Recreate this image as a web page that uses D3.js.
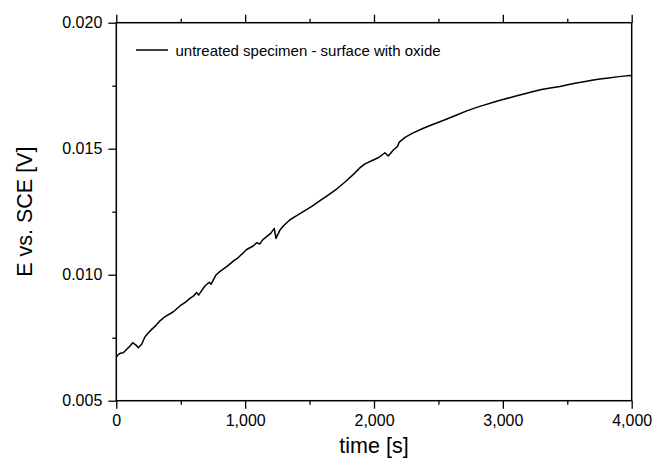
<!DOCTYPE html>
<html><head><meta charset="utf-8">
<script src="https://cdn.jsdelivr.net/npm/d3@7"></script>
<style>
html,body{margin:0;padding:0;background:#fff;}
svg{display:block;font-family:"Liberation Sans",Arial,sans-serif;}
</style></head>
<body>
<svg id="chart" width="654" height="465"></svg>
<script>
const times = [0, 15, 30, 54, 81, 105, 127, 153, 171, 185, 197, 223, 250, 275, 310, 339, 380, 443, 494, 540, 572, 600, 624, 639, 660, 688, 710, 722, 735, 774, 805, 857, 908, 947, 980, 1012, 1040, 1063, 1089, 1115, 1136, 1167, 1200, 1226, 1239, 1270, 1300, 1348, 1400, 1451, 1520, 1581, 1650, 1710, 1780, 1840, 1890, 1930, 1995, 2040, 2085, 2111, 2150, 2181, 2196, 2241, 2300, 2383, 2450, 2512, 2580, 2642, 2720, 2797, 2860, 2926, 3000, 3080, 3185, 3236, 3300, 3380, 3443, 3496, 3560, 3640, 3702, 3754, 3820, 3900, 3960, 4000];
const potential = [0.00672, 0.00683, 0.00688, 0.00690, 0.00704, 0.00716, 0.00730, 0.00721, 0.00710, 0.00718, 0.00724, 0.00754, 0.00770, 0.00783, 0.00800, 0.00817, 0.00834, 0.00853, 0.00876, 0.00892, 0.00906, 0.00916, 0.00929, 0.00919, 0.00935, 0.00955, 0.00965, 0.00970, 0.00962, 0.00999, 0.01013, 0.01032, 0.01054, 0.01068, 0.01084, 0.01100, 0.01108, 0.01114, 0.01127, 0.01122, 0.01138, 0.01151, 0.01165, 0.01184, 0.01144, 0.01177, 0.01195, 0.01218, 0.01234, 0.01250, 0.01272, 0.01294, 0.01318, 0.01340, 0.01370, 0.01398, 0.01424, 0.01440, 0.01455, 0.01466, 0.01484, 0.01471, 0.01495, 0.01508, 0.01526, 0.01545, 0.01562, 0.01581, 0.01595, 0.01607, 0.01621, 0.01634, 0.01650, 0.01664, 0.01674, 0.01684, 0.01695, 0.01706, 0.01720, 0.01727, 0.01735, 0.01742, 0.01747, 0.01753, 0.01760, 0.01767, 0.01773, 0.01777, 0.01781, 0.01786, 0.01789, 0.01790];
const xTicks = [0, 1000, 2000, 3000, 4000];
const xMinor = [500, 1500, 2500, 3500];
const yTicks = [0.005, 0.010, 0.015, 0.020];
const yMinor = [0.0075, 0.0125, 0.0175];
const seriesLabel = "untreated specimen - surface with oxide";
const xTitle = "time [s]";
const yTitle = "E vs. SCE [V]";

const svg = d3.select("#chart");
const m = {left: 116.3, right: 631.7, top: 22.7, bottom: 400.7};
const x = d3.scaleLinear().domain([0, 4000]).range([m.left, m.right]);
const y = d3.scaleLinear().domain([0.005, 0.020]).range([m.bottom, m.top]);
const data = times.map((t, i) => ({t, v: potential[i]}));

// curve
svg.append("path").datum(data)
  .attr("fill", "none").attr("stroke", "#000").attr("stroke-width", 1.5)
  .attr("stroke-linejoin", "round")
  .attr("d", d3.line().x(d => x(d.t)).y(d => y(d.v)));

function styleAxis(g) {
  g.select(".domain").remove();
  g.selectAll("line").attr("stroke", "#000").attr("stroke-width", 1.3);
  g.selectAll("text").attr("fill", "#000").attr("font-size", 16)
   .attr("font-family", '"Liberation Sans", Arial, sans-serif');
}

// bottom axis
svg.append("g").attr("transform", `translate(0,${m.bottom})`)
  .call(d3.axisBottom(x).tickValues(xTicks).tickFormat(d3.format(",")).tickSize(8).tickPadding(6)).call(styleAxis);
svg.append("g").attr("transform", `translate(0,${m.bottom})`)
  .call(d3.axisBottom(x).tickValues(xMinor).tickFormat("").tickSize(4)).call(styleAxis);

// top axis
svg.append("g").attr("transform", `translate(0,${m.top})`)
  .call(d3.axisTop(x).tickValues(xTicks).tickFormat("").tickSize(8)).call(styleAxis);
svg.append("g").attr("transform", `translate(0,${m.top})`)
  .call(d3.axisTop(x).tickValues(xMinor).tickFormat("").tickSize(4)).call(styleAxis);

// left axis
svg.append("g").attr("transform", `translate(${m.left},0)`)
  .call(d3.axisLeft(y).tickValues(yTicks).tickFormat(d3.format(".3f")).tickSize(8).tickPadding(6)).call(styleAxis);
svg.append("g").attr("transform", `translate(${m.left},0)`)
  .call(d3.axisLeft(y).tickValues(yMinor).tickFormat("").tickSize(4)).call(styleAxis);

// frame
svg.append("rect").attr("x", m.left).attr("y", m.top)
  .attr("width", m.right - m.left).attr("height", m.bottom - m.top)
  .attr("fill", "none").attr("stroke", "#000").attr("stroke-width", 1.5);

// legend
svg.append("line").attr("x1", 136).attr("x2", 168).attr("y1", 50).attr("y2", 50)
  .attr("stroke", "#000").attr("stroke-width", 1.5);
svg.append("text").attr("x", 175.5).attr("y", 55.5).attr("font-size", 15)
  .attr("fill", "#000").text(seriesLabel);

// titles
svg.append("text").attr("x", (m.left + m.right) / 2).attr("y", 452.5)
  .attr("text-anchor", "middle").attr("font-size", 21.5).attr("fill", "#000").text(xTitle);
svg.append("text").attr("transform", `translate(32,${(m.top + m.bottom) / 2}) rotate(-90)`)
  .attr("text-anchor", "middle").attr("font-size", 21.5).attr("fill", "#000").text(yTitle);
</script>
</body></html>
